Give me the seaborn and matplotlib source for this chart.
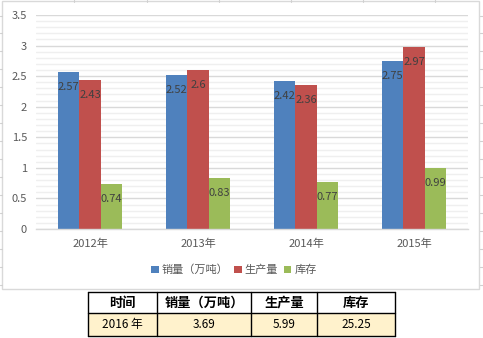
import matplotlib
matplotlib.use("Agg")
import matplotlib.pyplot as plt
from matplotlib.patches import Rectangle, Patch
from matplotlib.lines import Line2D
import numpy as np
import pandas as pd
import seaborn as sns

# ---- data ----
years = ["2012年", "2013年", "2014年", "2015年"]
series_names = ["销量（万吨）", "生产量", "库存"]
sales = [2.57, 2.52, 2.42, 2.75]
production = [2.43, 2.60, 2.36, 2.97]
stock = [0.74, 0.83, 0.77, 0.99]
y_ticks = [0, 0.5, 1, 1.5, 2, 2.5, 3, 3.5]
y_tick_labels = ["0", "0.5", "1", "1.5", "2", "2.5", "3", "3.5"]

table_header = ["时间", "销量（万吨）", "生产量", "库存"]
table_row = ["2016 年", "3.69", "5.99", "25.25"]

colors = ["#4F81BD", "#C0504D", "#9BBB59"]

sns.set_theme(style="white")
plt.rcParams["font.family"] = ["Noto Sans CJK SC", "DejaVu Sans"]

W, H = 483, 338
fig = plt.figure(figsize=(W / 100, H / 100), dpi=100)
fig.patch.set_facecolor("white")


def px_rect(x0, y0, x1, y1):
    """Figure-fraction rect from pixel box (top-left origin)."""
    return [x0 / W, 1 - y1 / H, (x1 - x0) / W, (y1 - y0) / H]


# sheet gridline stubs around the chart object
for gx in [74, 147, 219, 291, 363, 435]:
    fig.add_artist(Line2D([gx / W, gx / W], [1, 1 - 2 / H], color="#D0D0D0", lw=0.8))
for gy in [16, 33, 51, 69, 87, 105, 123, 141, 159, 177, 195, 213, 231, 249, 267, 285]:
    fig.add_artist(Line2D([479.5 / W, 483 / W], [1 - gy / H, 1 - gy / H], color="#D0D0D0", lw=0.8))
    fig.add_artist(Line2D([0, 2 / W], [1 - gy / H, 1 - gy / H], color="#D0D0D0", lw=0.8))

# chart frame
fig.add_artist(Rectangle((2 / W, 1 - 289 / H), (479 - 2) / W, (289 - 1) / H,
                         transform=fig.transFigure, fill=False,
                         edgecolor="#D9D9D9", lw=1.0))

# ---- bar chart ----
ax = fig.add_axes(px_rect(36, 15, 468, 229))
df = pd.DataFrame({
    "year": years * 3,
    "series": [series_names[0]] * 4 + [series_names[1]] * 4 + [series_names[2]] * 4,
    "value": sales + production + stock,
})
sns.barplot(data=df, x="year", y="value", hue="series", hue_order=series_names,
            palette=colors, saturation=1, width=0.6, ax=ax, legend=False,
            errorbar=None, linewidth=0)

ax.set_ylim(0, 3.5)
ax.set_xlim(-0.5, 3.5)
ax.set_yticks(y_ticks)
ax.set_yticklabels(y_tick_labels)
ax.set_yticks(np.arange(0, 3.51, 0.1), minor=True)
ax.grid(True, axis="y", which="major", color="#D9D9D9", lw=1.0)
ax.grid(True, axis="y", which="minor", color="#EFEFEF", lw=1.0)
ax.set_axisbelow(True)
ax.set_xlabel("")
ax.set_ylabel("")
for s in ["top", "right", "left"]:
    ax.spines[s].set_visible(False)
ax.spines["bottom"].set_color("#D9D9D9")
ax.spines["bottom"].set_linewidth(1.0)
ax.tick_params(axis="y", length=0, pad=6.5, labelsize=8, labelcolor="#595959")
ax.tick_params(axis="x", length=0, pad=7, labelsize=8, labelcolor="#595959")
ax.patch.set_alpha(0)

# value labels just inside the top of each bar
for cont, vals in zip(ax.containers, [sales, production, stock]):
    for bar, v in zip(cont, vals):
        ax.annotate(f"{v:g}", (bar.get_x() + bar.get_width() / 2, bar.get_height()),
                    xytext=(0, -10.8), textcoords="offset points",
                    ha="center", va="center", fontsize=8, color="#404040")

# legend
handles = [Patch(facecolor=c, edgecolor="none") for c in colors]
fig.legend(handles, series_names, loc="center", bbox_to_anchor=(234 / W, 1 - 270 / H),
           ncol=3, frameon=False, fontsize=8, handlelength=0.65, handleheight=0.65,
           handletextpad=0.3, columnspacing=0.5, labelcolor="#595959")

# ---- summary table ----
tax = fig.add_axes(px_rect(88, 292, 395, 336))
tax.set_xlim(88, 395)
tax.set_ylim(336, 292)
tax.axis("off")
col_edges = [88, 157, 251, 317, 395]
row_edges = [292, 313, 336]
tax.add_patch(Rectangle((88, 313), 395 - 88, 336 - 313, facecolor="#FFF2CC", edgecolor="none"))
for x in col_edges:
    tax.plot([x, x], [292, 336], color="black", lw=1.0, clip_on=False)
for y in row_edges:
    tax.plot([88, 395], [y, y], color="black", lw=1.0, clip_on=False)
for i in range(4):
    cx = (col_edges[i] + col_edges[i + 1]) / 2
    tax.text(cx, 302.5, table_header[i], ha="center", va="center",
             fontsize=9.5, fontweight="bold", color="black")
    tax.text(cx, 324.5, table_row[i], ha="center", va="center",
             fontsize=8.5, color="black")

fig.savefig("out.png", dpi=100)
